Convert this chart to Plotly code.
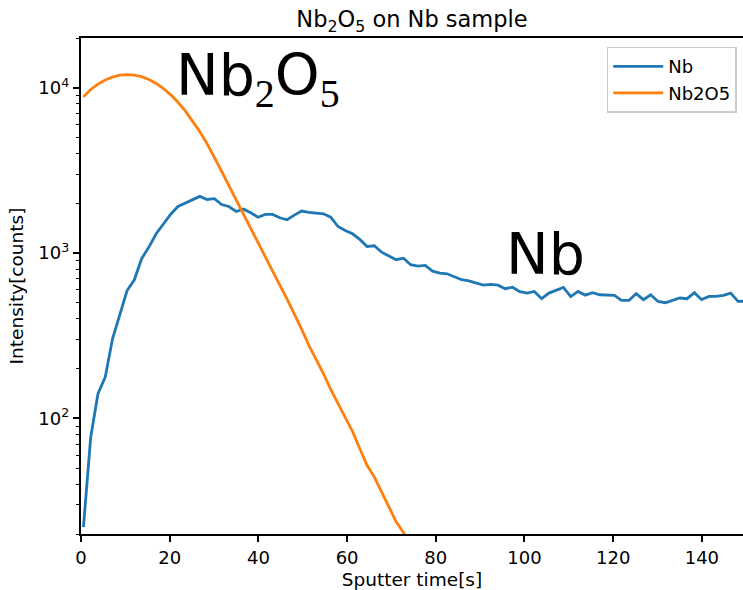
import math
import plotly.graph_objects as go

# Sputter depth profile: sample times [s] and measured intensities [counts]
time_s = [
    0.55, 2.19, 3.83, 5.47, 7.11, 8.75, 10.39, 12.03, 13.67, 15.31,
    16.95, 18.59, 20.23, 21.87, 23.51, 25.15, 26.79, 28.43, 30.07, 31.71,
    33.35, 34.99, 36.63, 38.27, 39.91, 41.55, 43.19, 44.83, 46.47, 48.11,
    49.75, 51.39, 53.03, 54.67, 56.31, 57.95, 59.59, 61.23, 62.87, 64.51,
    66.15, 67.79, 69.43, 71.07, 72.71, 74.35, 75.99, 77.63, 79.27, 80.91,
    82.55, 84.19, 85.83, 87.47, 89.11, 90.75, 92.39, 94.03, 95.67, 97.31,
    98.95, 100.59, 102.23, 103.87, 105.51, 107.15, 108.79, 110.43, 112.07, 113.71,
    115.35, 116.99, 118.63, 120.27, 121.91, 123.55, 125.19, 126.83, 128.47, 130.11,
    131.75, 133.39, 135.03, 136.67, 138.31, 139.95, 141.59, 143.23, 144.87, 146.51,
    148.15, 149.79,
]

nb_counts = [
    22, 77, 141, 178, 303, 430, 594, 690, 925, 1087,
    1309, 1500, 1720, 1913, 2005, 2120, 2203, 2110, 2133, 1968,
    1914, 1786, 1845, 1754, 1649, 1713, 1713, 1636, 1591, 1698,
    1796, 1763, 1754, 1730, 1649, 1448, 1371, 1309, 1210, 1097,
    1107, 1013, 962, 912, 932, 851, 834, 842, 778, 757,
    750, 722, 690, 680, 662, 640, 646, 640, 609, 622,
    585, 573, 586, 530, 573, 594, 620, 545, 586, 557,
    576, 560, 560, 555, 517, 517, 568, 523, 560, 510,
    501, 517, 535, 530, 576, 523, 547, 547, 555, 573,
    510, 512,
]

nb2o5_counts = [
    8810, 9770, 10520, 11140, 11610, 11910, 12020, 11940, 11670, 11220,
    10620, 9890, 9060, 8170, 7240, 6320, 5430, 4590, 3820, 3126,
    2560, 2094, 1714, 1403, 1148, 944, 776, 640, 527, 429,
    347, 277, 229, 187, 150, 123, 102, 83.4, 65.6, 52.1,
    44.2, 35.8, 28.9, 23.7, 20.4, 17.0, 14.2,
]

series_names = ["Nb", "Nb2O5"]
series_colors = ["#1f77b4", "#ff7f0e"]

y_tick_vals = [100, 1000, 10000]
y_tick_text = ["10<sup>2</sup>", "10<sup>3</sup>", "10<sup>4</sup>"]
y_minor_vals = [m * d for d in (10, 100, 1000, 10000) for m in range(2, 10)]
x_tick_vals = [0, 20, 40, 60, 80, 100, 120, 140]

FONT = "DejaVu Sans"
SERIF = "'Liberation Serif'"
INK = "black"

fig = go.Figure()
fig.add_trace(go.Scatter(
    x=time_s, y=nb_counts, mode="lines", name=series_names[0],
    line=dict(color=series_colors[0], width=2.8),
))
fig.add_trace(go.Scatter(
    x=time_s[:len(nb2o5_counts)], y=nb2o5_counts, mode="lines", name=series_names[1],
    line=dict(color=series_colors[1], width=2.8),
))

# Large in-plot labels for the two layers
fig.add_annotation(
    x=20.9, y=math.log10(6520), xref="x", yref="y",
    text=f'Nb<sub><span style="font-family:{SERIF}">2</span></sub>O'
         f'<sub><span style="font-family:{SERIF}">5</span></sub>',
    showarrow=False, xanchor="left", yanchor="bottom",
    font=dict(family=FONT, size=57, color=INK),
)
fig.add_annotation(
    x=95.3, y=math.log10(610), xref="x", yref="y",
    text="Nb", showarrow=False, xanchor="left", yanchor="bottom",
    font=dict(family=FONT, size=57, color=INK),
)

axis_common = dict(
    showline=True, linecolor=INK, linewidth=1.5,
    ticks="outside", ticklen=6.5, tickwidth=1.5, tickcolor=INK,
    showgrid=False, zeroline=False,
    tickfont=dict(family=FONT, size=18, color=INK),
)

fig.update_layout(
    width=743, height=590,
    margin=dict(l=81, r=0, t=38, b=56),
    paper_bgcolor="white", plot_bgcolor="white",
    font=dict(family=FONT, size=18, color=INK),
    title=dict(
        text="Nb<sub>2</sub>O<sub>5</sub> on Nb sample",
        x=0.5, xref="paper", xanchor="center",
        y=1 - 19 / 590, yref="container", yanchor="middle",
        font=dict(family=FONT, size=22.5, color=INK),
    ),
    xaxis=dict(
        **axis_common,
        range=[0, 149.28], tickvals=x_tick_vals, mirror=True,
        title=dict(text="Sputter time[s]", standoff=8,
                   font=dict(family=FONT, size=18.5, color=INK)),
    ),
    yaxis=dict(
        **axis_common,
        type="log", range=[math.log10(20), math.log10(20000)],
        tickvals=y_tick_vals, ticktext=y_tick_text,
        minor=dict(tickvals=y_minor_vals, ticks="outside", ticklen=3.7,
                   tickwidth=1.2, tickcolor=INK, showgrid=False),
        title=dict(text="Intensity[counts]", standoff=10,
                   font=dict(family=FONT, size=18.5, color=INK)),
    ),
    legend=dict(
        x=0.9905, y=0.9825, xanchor="right", yanchor="top",
        xref="paper", yref="paper",
        bgcolor="rgba(255,255,255,0.8)", bordercolor="#cccccc", borderwidth=1.5,
        font=dict(family=FONT, size=18, color=INK),
        itemwidth=50, tracegroupgap=0,
    ),
    showlegend=True,
)

fig.write_html("out.html")
